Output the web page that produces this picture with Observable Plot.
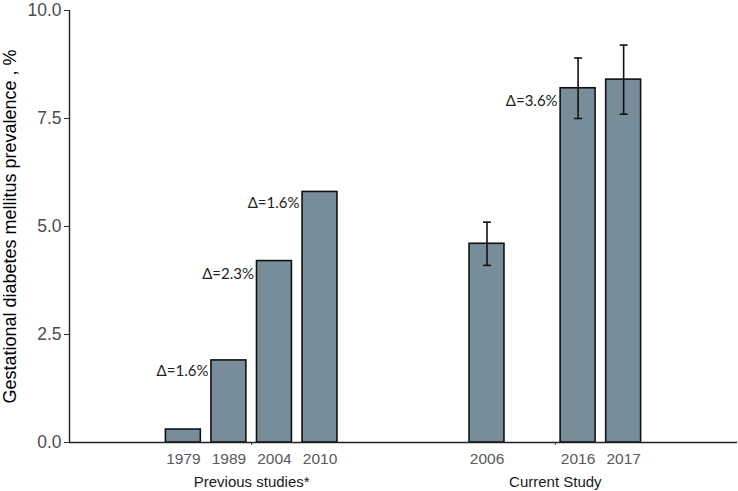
<!DOCTYPE html>
<html><head><meta charset="utf-8">
<script src="https://cdn.jsdelivr.net/npm/d3@7"></script>
<script src="https://cdn.jsdelivr.net/npm/@observablehq/plot@0.6"></script>
<style>body{margin:0;background:#fff;}</style>
</head><body><div id="chart"></div>
<script>
const years = ["1979", "1989", "2004", "2010", "2006", "2016", "2017"];
const groups = [1, 1, 1, 1, 2, 2, 2];
const groupNames = ["Previous studies*", "Current Study"];
const slots = [0, 1, 2, 3, 0, 2, 3];
const values = [0.3, 1.9, 4.2, 5.8, 4.6, 8.2, 8.4];
const errLow = [null, null, null, null, 4.1, 7.5, 7.6];
const errHigh = [null, null, null, null, 5.1, 8.9, 9.2];
const deltaLabels = [null, "Δ=1.6%", "Δ=2.3%", "Δ=1.6%", null, "Δ=3.6%", null];
const deltaY = [null, 1.65, 3.9, 5.55, null, 7.9, null];
const yTicks = [0, 2.5, 5, 7.5, 10];
const yTitle = "Gestational diabetes mellitus prevalence , %";

const dodge = 0.15, barW = 0.115, capW = 0.013;
const data = years.map((year, i) => ({
  year, group: groups[i], pos: groups[i] + (slots[i] - 1.5) * dodge,
  value: values[i], lo: errLow[i], hi: errHigh[i], delta: deltaLabels[i], ly: deltaY[i]
}));
const errs = data.filter(d => d.lo != null);
const deltas = data.filter(d => d.delta != null);
const groupData = groupNames.map((name, i) => ({name, x: i + 1}));

const chart = Plot.plot({
  width: 738, height: 491,
  marginLeft: 69, marginRight: 1, marginTop: 10, marginBottom: 49,
  style: {fontFamily: "'Liberation Sans', Arial, sans-serif", background: "#fff", overflow: "visible"},
  x: {domain: [0.4, 2.6]},
  y: {domain: [0, 10]},
  marks: [
    Plot.rectY(data, {x1: d => d.pos - barW / 2, x2: d => d.pos + barW / 2, y1: 0, y2: "value",
      fill: "#788d9a", stroke: "#111", strokeWidth: 1.6}),
    Plot.ruleX(errs, {x: "pos", y1: "lo", y2: "hi", stroke: "#111", strokeWidth: 1.6}),
    Plot.link(errs, {x1: d => d.pos - capW, x2: d => d.pos + capW, y1: "hi", y2: "hi", stroke: "#111", strokeWidth: 1.6}),
    Plot.link(errs, {x1: d => d.pos - capW, x2: d => d.pos + capW, y1: "lo", y2: "lo", stroke: "#111", strokeWidth: 1.6}),
    Plot.text(deltas, {x: "pos", y: "ly", text: "delta", textAnchor: "end", dx: -(barW / 2 * 304) - 3,
      fontSize: 15, fill: "#222", fontFamily: "Lato, sans-serif"}),
    Plot.ruleY([0], {stroke: "#222", strokeWidth: 1.4}),
    Plot.ruleX([0.4], {y1: 0, y2: 10, stroke: "#222", strokeWidth: 1.4}),
    Plot.axisY({ticks: yTicks, tickFormat: d3.format(".1f"), tickSize: 5, tickPadding: 3,
      fontSize: 17.5, color: "#4d4d4d", stroke: "#333", label: null}),
    Plot.axisX({ticks: [1, 2], tickSize: 3, tickFormat: () => "", label: null, stroke: "#333"}),
    Plot.text(data, {x: "pos", y: 0, text: "year", dy: 16.5, fontSize: 15.5, fill: "#595959"}),
    Plot.text(groupData, {x: "x", y: 0, text: "name", dy: 40, fontSize: 15, fill: "#1a1a1a"}),
    Plot.text([yTitle], {frameAnchor: "left", textAnchor: "middle", rotate: -90, dx: -59, fontSize: 18, fill: "#000"})
  ]
});
document.getElementById("chart").appendChild(chart);
</script>
</body></html>
